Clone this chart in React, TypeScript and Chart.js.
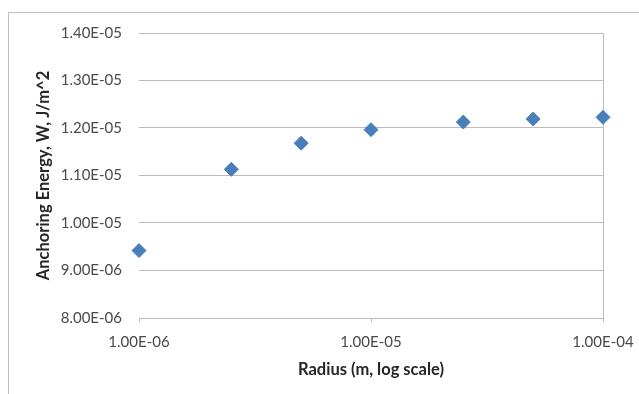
import React, { useEffect, useRef } from "react";
import { Chart, registerables } from "chart.js";

Chart.register(...registerables);

const radius = [1e-6, 2.5e-6, 5e-6, 1e-5, 2.5e-5, 5e-5, 1e-4];
const energy = [9.42e-6, 1.113e-5, 1.168e-5, 1.1965e-5, 1.2125e-5, 1.219e-5, 1.2225e-5];

const xTicks = [1e-6, 1e-5, 1e-4];
const xTickLabels = ["1.00E-06", "1.00E-05", "1.00E-04"];
const yTicks = [8e-6, 9e-6, 1e-5, 1.1e-5, 1.2e-5, 1.3e-5, 1.4e-5];
const yTickLabels = ["8.00E-06", "9.00E-06", "1.00E-05", "1.10E-05", "1.20E-05", "1.30E-05", "1.40E-05"];

const xTitle = "Radius (m, log scale)";
const yTitle = "Anchoring Energy, W, J/m^2";

const FONT = "Lato, 'Open Sans', sans-serif";
const GRID = "#bcbcbc";

export default function App() {
  const ref = useRef<HTMLCanvasElement | null>(null);

  useEffect(() => {
    const canvas = ref.current;
    if (!canvas) return;
    const chart = new Chart(canvas, {
      type: "scatter",
      data: {
        datasets: [
          {
            data: radius.map((r, i) => ({ x: r, y: energy[i] })),
            pointStyle: "rectRot",
            pointRadius: 7,
            pointHoverRadius: 7,
            pointBackgroundColor: "#4a7ebb",
            pointBorderColor: "#4a7ebb",
            pointBorderWidth: 1,
            showLine: false,
            clip: false as any,
          },
        ],
      },
      options: {
        responsive: false,
        animation: false,
        events: [],
        layout: { padding: { left: 0, top: 33, right: 36, bottom: 0 } },
        plugins: { legend: { display: false }, tooltip: { enabled: false } },
        scales: {
          x: {
            type: "logarithmic",
            min: xTicks[0],
            max: xTicks[xTicks.length - 1],
            afterBuildTicks: (scale: any) => {
              scale.ticks = xTicks.map((v) => ({ value: v }));
            },
            afterFit: (scale: any) => {
              scale.height = 76;
              scale.paddingLeft = 0;
              scale.paddingRight = 0;
            },
            border: { display: false },
            grid: {
              color: (ctx: any) => (ctx.index === xTicks.length - 1 ? GRID : "rgba(0,0,0,0)"),
              tickColor: GRID,
              drawTicks: true,
              tickLength: 4,
              lineWidth: 1,
            },
            ticks: {
              autoSkip: false,
              maxRotation: 0,
              padding: 11,
              color: "#4a4a4a",
              font: { family: FONT, size: 15 },
              callback: (_v: any, i: number) => xTickLabels[i],
            },
            title: {
              display: true,
              text: xTitle,
              color: "#262626",
              font: { family: FONT, size: 16.5, weight: "bold" },
              padding: { top: 0, bottom: 14 },
            },
          },
          y: {
            type: "linear",
            min: yTicks[0],
            max: yTicks[yTicks.length - 1],
            afterBuildTicks: (scale: any) => {
              scale.ticks = yTicks.map((v) => ({ value: v }));
            },
            afterFit: (scale: any) => {
              scale.width = 139;
              scale.paddingTop = 0;
              scale.paddingBottom = 0;
            },
            border: { display: false },
            grid: { color: GRID, drawTicks: false, lineWidth: 1 },
            ticks: {
              padding: 17,
              color: "#4a4a4a",
              font: { family: FONT, size: 15 },
              callback: (_v: any, i: number) => yTickLabels[i],
            },
            title: {
              display: true,
              text: yTitle,
              color: "#262626",
              font: { family: FONT, size: 16.5, weight: "bold" },
              padding: { top: 34, bottom: 0 },
            },
          },
        },
      } as any,
    });
    return () => chart.destroy();
  }, []);

  return (
    <div
      style={{
        position: "fixed",
        left: 0,
        top: 0,
        width: 639,
        height: 394,
        overflow: "hidden",
        background: "#fff",
      }}
    >
      <div
        style={{
          position: "absolute",
          left: 8,
          top: 12,
          width: 700,
          height: 500,
          border: "1px solid #bdbdbd",
        }}
      />
      <canvas
        ref={ref}
        width={639}
        height={394}
        style={{ position: "absolute", left: 0, top: 0, width: 639, height: 394 }}
      />
    </div>
  );
}
